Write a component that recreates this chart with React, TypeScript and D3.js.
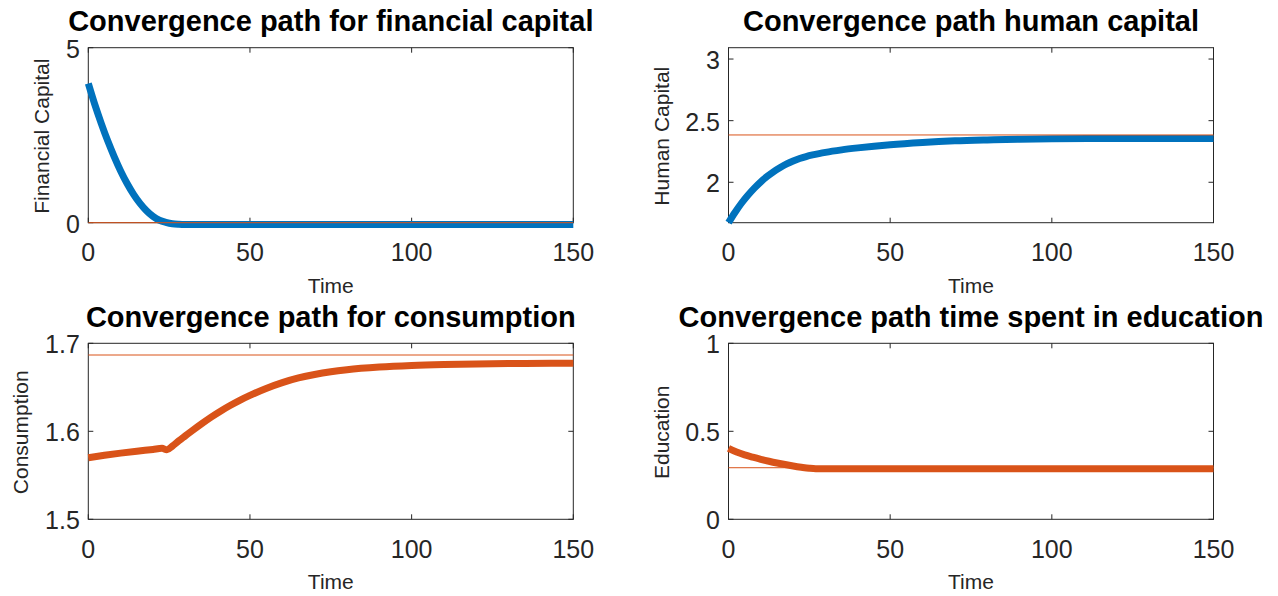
import React from 'react';
import * as d3 from 'd3';

// ---------- data ----------
const TIME_DOMAIN = [0, 150];
const TIME_TICKS = [0, 50, 100, 150];

// Financial capital
const FK_T = [0, 2, 4, 6, 8, 10, 12, 14, 16, 18, 20, 22, 24, 26, 28, 30, 40, 60, 80, 100, 120, 150];
const FK_V = [3.98, 3.38, 2.84, 2.34, 1.89, 1.48, 1.12, 0.81, 0.55, 0.34, 0.18, 0.07, 0.01, -0.03, -0.045, -0.05, -0.05, -0.05, -0.05, -0.05, -0.05, -0.05];
const FK_SS = 0;
const FK_YDOMAIN = [0, 5];
const FK_YTICKS = [0, 5];
const FK_YTICK_LABELS = ['0', '5'];

// Human capital
const HK_T = [0, 2, 4, 6, 8, 10, 12, 14, 16, 18, 20, 22, 24, 26, 28, 30, 35, 40, 45, 50, 60, 70, 80, 90, 100, 120, 150];
const HK_V = [1.672, 1.755, 1.83, 1.895, 1.953, 2.004, 2.048, 2.087, 2.12, 2.149, 2.173, 2.193, 2.209, 2.222, 2.233, 2.243, 2.263, 2.279, 2.293, 2.305, 2.323, 2.336, 2.344, 2.35, 2.353, 2.355, 2.356];
const HK_SS = 2.384;
const HK_YDOMAIN = [1.672, 3.092];
const HK_YTICKS = [2, 2.5, 3];
const HK_YTICK_LABELS = ['2', '2.5', '3'];

// Consumption
const C_T = [0, 5, 10, 15, 20, 22.8, 24.3, 26, 28, 30, 32, 35, 38, 41, 44, 47, 50, 55, 60, 65, 70, 75, 80, 90, 100, 110, 120, 135, 150];
const C_V = [1.57, 1.5727, 1.5752, 1.5774, 1.5794, 1.5806, 1.5789, 1.5832, 1.5892, 1.5948, 1.6004, 1.6085, 1.6162, 1.6232, 1.6296, 1.6355, 1.6408, 1.6487, 1.6553, 1.6606, 1.6646, 1.6677, 1.6700, 1.6730, 1.6748, 1.6759, 1.6766, 1.6771, 1.6773];
const C_SS = 1.6867;
const C_YDOMAIN = [1.5, 1.7];
const C_YTICKS = [1.5, 1.6, 1.7];
const C_YTICK_LABELS = ['1.5', '1.6', '1.7'];

// Education
const E_T = [0, 2.5, 5, 7.5, 10, 12.5, 15, 17.5, 20, 22.5, 25, 27, 30, 50, 100, 150];
const E_V = [0.403, 0.382, 0.366, 0.353, 0.341, 0.33, 0.32, 0.311, 0.303, 0.296, 0.29, 0.2875, 0.2875, 0.2875, 0.2875, 0.2875];
const E_SS = 0.293;
const E_YDOMAIN = [0, 1];
const E_YTICKS = [0, 0.5, 1];
const E_YTICK_LABELS = ['0', '0.5', '1'];

const BLUE = '#0072BD';
const ORANGE = '#D95319';
const AXIS = '#262626';
const FONT = '"Liberation Sans", Arial, Helvetica, sans-serif';

type PanelProps = {
  left: number;
  top: number;
  width: number;
  height: number;
  t: number[];
  v: number[];
  ss: number;
  yDomain: number[];
  yTicks: number[];
  yTickLabels: string[];
  color: string;
  title: string;
  ylabel: string;
  ylabelX: number;
};

function Panel(p: PanelProps) {
  const x = d3.scaleLinear().domain(TIME_DOMAIN).range([p.left, p.left + p.width]);
  const y = d3.scaleLinear().domain(p.yDomain).range([p.top + p.height, p.top]);
  const line = d3
    .line<number>()
    .x((_, i) => x(p.t[i]))
    .y((d) => y(d))
    .curve(d3.curveMonotoneX);
  const ssLine = d3
    .line<number>()
    .x((d) => x(d))
    .y(() => y(p.ss));
  const L = p.left;
  const R = p.left + p.width;
  const T = p.top;
  const B = p.top + p.height;
  const tl = 5;
  return (
    <g>
      <rect x={L} y={T} width={p.width} height={p.height} fill="none" stroke={AXIS} strokeWidth={1} />
      {TIME_TICKS.map((tk) => (
        <g key={'xt' + tk}>
          <line x1={x(tk)} x2={x(tk)} y1={B} y2={B - tl} stroke={AXIS} strokeWidth={1} />
          <line x1={x(tk)} x2={x(tk)} y1={T} y2={T + tl} stroke={AXIS} strokeWidth={1} />
          <text x={x(tk)} y={B + 38.5} textAnchor="middle" fontSize={25} fill={AXIS} fontFamily={FONT}>
            {tk}
          </text>
        </g>
      ))}
      {p.yTicks.map((tk, i) => (
        <g key={'yt' + tk}>
          <line x1={L} x2={L + tl} y1={y(tk)} y2={y(tk)} stroke={AXIS} strokeWidth={1} />
          <line x1={R} x2={R - tl} y1={y(tk)} y2={y(tk)} stroke={AXIS} strokeWidth={1} />
          <text x={L - 8.5} y={y(tk) + 10} textAnchor="end" fontSize={25} fill={AXIS} fontFamily={FONT}>
            {p.yTickLabels[i]}
          </text>
        </g>
      ))}
      <path
        d={line(p.v) || ''}
        fill="none"
        stroke={p.color}
        strokeWidth={7}
        strokeLinejoin="round"
        strokeLinecap="butt"
      />
      <path d={ssLine(TIME_DOMAIN) || ''} fill="none" stroke={ORANGE} strokeWidth={1} />
      <text
        x={(L + R) / 2}
        y={T - 16.5}
        textAnchor="middle"
        fontSize={29}
        fontWeight="bold"
        fill="#000"
        fontFamily={FONT}
      >
        {p.title}
      </text>
      <text x={(L + R) / 2} y={B + 70} textAnchor="middle" fontSize={21} fill={AXIS} fontFamily={FONT}>
        Time
      </text>
      <text
        transform={`translate(${p.ylabelX},${(T + B) / 2 + 1}) rotate(-90)`}
        textAnchor="middle"
        fontSize={21}
        fill={AXIS}
        fontFamily={FONT}
      >
        {p.ylabel}
      </text>
    </g>
  );
}

export default function App() {
  const W = 1278;
  const H = 596;
  const colL = 88.3;
  const colR = 728.5;
  const pw = 485;
  const row1 = 47.7;
  const row2 = 343.3;
  const ph1 = 175;
  const ph2 = 176;
  return (
    <svg
      width={W}
      height={H}
      style={{ position: 'absolute', left: 0, top: 0, background: '#fff' }}
      xmlns="http://www.w3.org/2000/svg"
    >
      <rect x={0} y={0} width={W} height={H} fill="#fff" />
      <Panel
        left={colL}
        top={row1}
        width={pw}
        height={ph1}
        t={FK_T}
        v={FK_V}
        ss={FK_SS}
        yDomain={FK_YDOMAIN}
        yTicks={FK_YTICKS}
        yTickLabels={FK_YTICK_LABELS}
        color={BLUE}
        title="Convergence path for financial capital"
        ylabel="Financial Capital"
        ylabelX={49.3}
      />
      <Panel
        left={colR}
        top={row1}
        width={pw}
        height={ph1}
        t={HK_T}
        v={HK_V}
        ss={HK_SS}
        yDomain={HK_YDOMAIN}
        yTicks={HK_YTICKS}
        yTickLabels={HK_YTICK_LABELS}
        color={BLUE}
        title="Convergence path human capital"
        ylabel="Human Capital"
        ylabelX={668.7}
      />
      <Panel
        left={colL}
        top={row2}
        width={pw}
        height={ph2}
        t={C_T}
        v={C_V}
        ss={C_SS}
        yDomain={C_YDOMAIN}
        yTicks={C_YTICKS}
        yTickLabels={C_YTICK_LABELS}
        color={ORANGE}
        title="Convergence path for consumption"
        ylabel="Consumption"
        ylabelX={28.3}
      />
      <Panel
        left={colR}
        top={row2}
        width={pw}
        height={ph2}
        t={E_T}
        v={E_V}
        ss={E_SS}
        yDomain={E_YDOMAIN}
        yTicks={E_YTICKS}
        yTickLabels={E_YTICK_LABELS}
        color={ORANGE}
        title="Convergence path time spent in education"
        ylabel="Education"
        ylabelX={668.5}
      />
    </svg>
  );
}
